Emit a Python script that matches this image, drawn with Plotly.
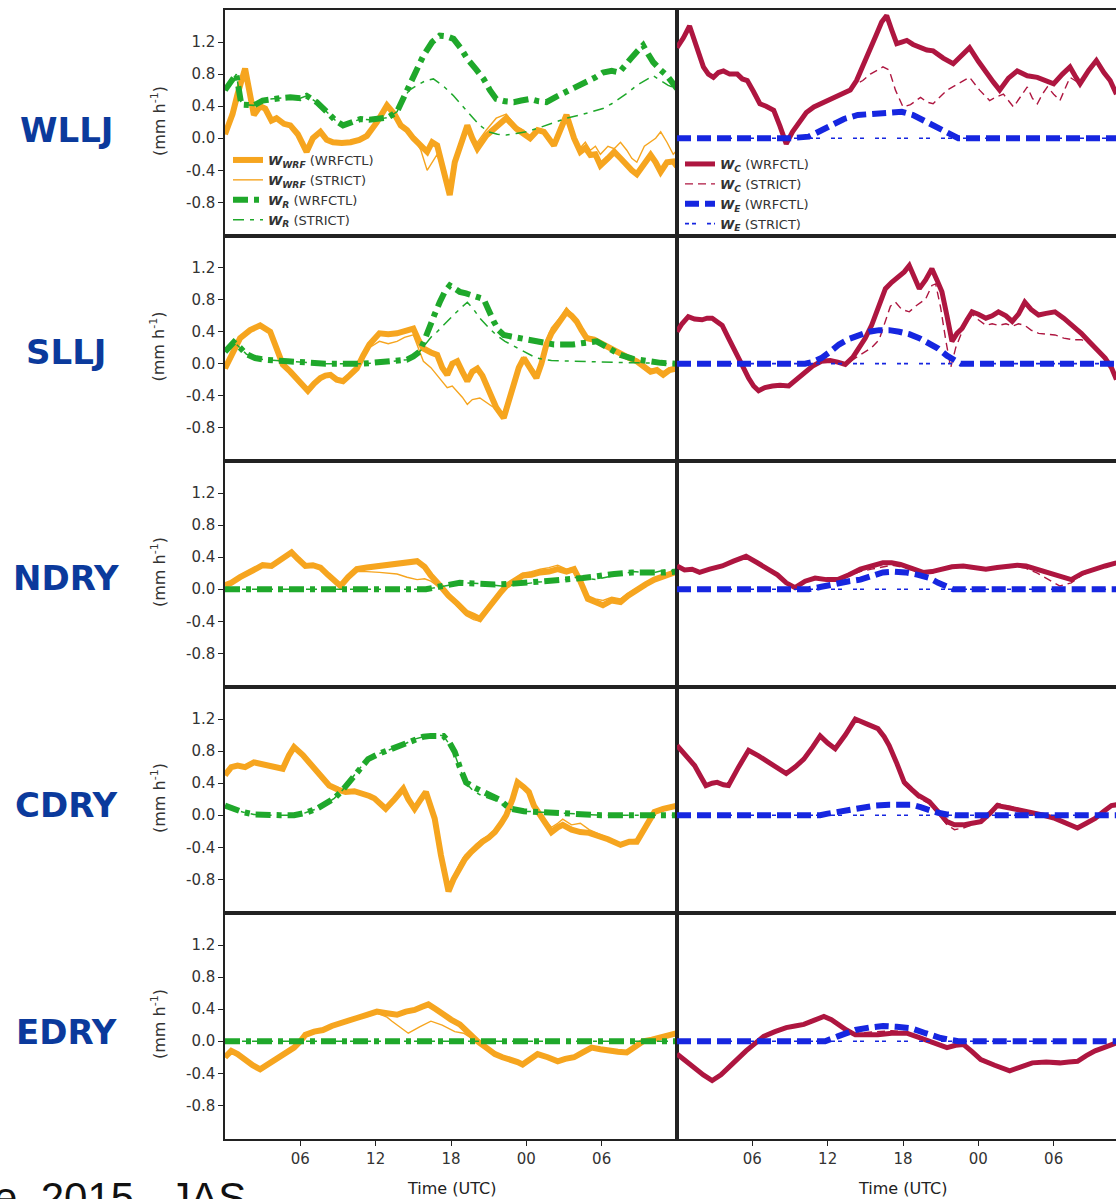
import plotly.graph_objects as go
from plotly.subplots import make_subplots

# ---------------- categories / ticks ----------------
ROW_NAMES = ["WLLJ", "SLLJ", "NDRY", "CDRY", "EDRY"]
X_TICK_HOURS = [6, 12, 18, 24, 30]
X_TICK_LABELS = ["06", "12", "18", "00", "06"]
Y_TICKS = [-0.8, -0.4, 0.0, 0.4, 0.8, 1.2]
Y_TICK_LABELS = ["-0.8", "-0.4", "0.0", "0.4", "0.8", "1.2"]
LEFT_NAMES = ["<b><i>W</i></b><sub><b><i>WRF</i></b></sub> (WRFCTL)",
              "<b><i>W</i></b><sub><b><i>WRF</i></b></sub> (STRICT)",
              "<b><i>W</i></b><sub><b><i>R</i></b></sub> (WRFCTL)",
              "<b><i>W</i></b><sub><b><i>R</i></b></sub> (STRICT)"]
RIGHT_NAMES = ["<b><i>W</i></b><sub><b><i>C</i></b></sub> (WRFCTL)",
               "<b><i>W</i></b><sub><b><i>C</i></b></sub> (STRICT)",
               "<b><i>W</i></b><sub><b><i>E</i></b></sub> (WRFCTL)",
               "<b><i>W</i></b><sub><b><i>E</i></b></sub> (STRICT)"]

# ---------------- data: (hour, mm/h) ----------------
# WLLJ
WLLJ_WRF_CTL = [(0,0.05),(0.6,0.3),(1.0,0.55),(1.6,0.87),(2.3,0.29),(2.8,0.4),(3.2,0.37),(3.7,0.22),(4.1,0.25),(4.7,0.18),(5.2,0.16),(5.8,0.05),(6.5,-0.17),(7.0,0.0),(7.6,0.08),(8.1,-0.02),(8.6,-0.05),(9.3,-0.06),(10,-0.05),(10.7,-0.02),(11.3,0.03),(12.1,0.2),(12.9,0.41),(13.5,0.3),(14,0.16),(14.5,0.1),(15,0.0),(15.6,-0.08),(16.1,-0.17),(16.5,-0.05),(16.9,-0.09),(17.4,-0.4),(17.9,-0.71),(18.3,-0.3),(18.7,-0.09),(19.3,0.16),(19.7,0.0),(20.1,-0.13),(20.8,0.03),(21.6,0.15),(22.4,0.25),(23.2,0.12),(23.8,0.05),(24.3,0.0),(24.9,0.1),(25.4,0.08),(26.2,-0.09),(26.7,0.1),(27.2,0.29),(27.8,0.0),(28.3,-0.17),(28.7,-0.12),(29.1,-0.21),(29.5,-0.2),(29.9,-0.34),(30.5,-0.25),(31,-0.17),(31.5,-0.25),(32,-0.34),(32.4,-0.4),(32.8,-0.45),(33.4,-0.3),(33.9,-0.21),(34.3,-0.3),(34.7,-0.42),(35.2,-0.3),(35.7,-0.29),(36,-0.35)]
WLLJ_WRF_STR = [(0,0.05),(0.6,0.3),(1.0,0.55),(1.6,0.87),(2.3,0.29),(2.8,0.4),(3.2,0.37),(3.7,0.22),(4.1,0.25),(4.7,0.18),(5.2,0.16),(5.8,0.05),(6.5,-0.17),(7.0,0.0),(7.6,0.08),(8.1,-0.02),(8.6,-0.05),(9.3,-0.06),(10,-0.05),(10.7,-0.02),(11.3,0.03),(12.1,0.2),(12.9,0.41),(13.5,0.3),(14,0.16),(14.5,0.1),(15,0.0),(15.6,-0.15),(16.1,-0.4),(16.5,-0.3),(16.9,-0.2),(17.4,-0.45),(17.9,-0.6),(18.3,-0.3),(18.7,-0.05),(19.3,0.1),(19.7,-0.05),(20.1,-0.05),(20.8,0.1),(21.6,0.25),(22.4,0.3),(23.2,0.15),(23.8,0.1),(24.3,0.02),(24.9,0.12),(25.4,0.1),(26.2,-0.05),(26.7,0.1),(27.2,0.28),(27.8,0.0),(28.3,-0.12),(28.7,-0.05),(29.1,-0.15),(29.5,-0.1),(29.9,-0.2),(30.5,-0.1),(31,-0.13),(31.5,-0.05),(32,-0.15),(32.4,-0.25),(32.8,-0.3),(33.4,-0.1),(33.9,-0.05),(34.3,0.0),(34.7,0.08),(35.2,-0.05),(35.7,-0.2),(36,-0.15)]
WLLJ_R_CTL = [(0,0.6),(0.5,0.7),(0.9,0.8),(1.3,0.42),(2.3,0.41),(3.0,0.47),(3.6,0.49),(4.4,0.5),(5.2,0.51),(6.0,0.5),(6.5,0.53),(7.3,0.45),(8.1,0.33),(8.8,0.22),(9.4,0.16),(10.1,0.2),(10.8,0.24),(11.5,0.23),(12.3,0.24),(13.0,0.26),(13.7,0.33),(14.2,0.5),(14.7,0.7),(15.3,0.88),(15.8,1.03),(16.5,1.2),(17.1,1.28),(17.7,1.27),(18.2,1.24),(18.8,1.12),(19.3,0.99),(20.0,0.86),(20.6,0.74),(21.1,0.6),(21.6,0.49),(22.3,0.46),(23,0.45),(23.6,0.47),(24.3,0.49),(25.0,0.46),(25.6,0.45),(26.4,0.52),(27.2,0.58),(28.0,0.64),(28.8,0.7),(29.5,0.76),(30.1,0.82),(30.8,0.84),(31.4,0.82),(31.9,0.9),(32.3,0.99),(32.8,1.08),(33.3,1.16),(33.7,1.05),(34.1,0.95),(34.7,0.85),(35.2,0.78),(35.8,0.66),(36,0.62)]
WLLJ_R_STR = [(0,0.6),(0.5,0.7),(0.9,0.8),(1.3,0.42),(2.3,0.41),(3.0,0.47),(3.6,0.49),(4.4,0.5),(5.2,0.51),(6.0,0.5),(6.5,0.53),(7.3,0.45),(8.1,0.33),(8.8,0.22),(9.4,0.16),(10.1,0.2),(10.8,0.24),(11.5,0.23),(12.3,0.24),(13.0,0.26),(13.7,0.33),(14.2,0.5),(14.7,0.6),(15.3,0.66),(16.0,0.72),(16.6,0.74),(17.4,0.65),(18.2,0.53),(18.9,0.4),(19.6,0.28),(20.3,0.16),(21,0.08),(21.7,0.05),(22.4,0.04),(23.2,0.06),(24,0.08),(25,0.13),(26.2,0.2),(27.2,0.25),(28.3,0.29),(29.2,0.33),(30.1,0.37),(30.8,0.43),(31.4,0.49),(32.1,0.57),(32.8,0.66),(33.5,0.72),(34.1,0.78),(34.7,0.72),(35.3,0.66),(36,0.62)]
WLLJ_C_CTL = [(0,1.13),(0.5,1.25),(1.0,1.4),(1.5,1.15),(2.1,0.89),(2.5,0.8),(2.9,0.76),(3.3,0.82),(3.7,0.84),(4.2,0.8),(4.8,0.8),(5.2,0.74),(5.6,0.72),(6.1,0.58),(6.6,0.43),(7.1,0.4),(7.7,0.35),(8.2,0.15),(8.7,-0.07),(9.2,0.08),(9.8,0.22),(10.3,0.32),(10.9,0.39),(11.7,0.45),(12.5,0.51),(13.2,0.55),(13.8,0.6),(14.3,0.72),(14.8,0.89),(15.4,1.1),(15.9,1.3),(16.3,1.45),(16.7,1.53),(17.1,1.35),(17.5,1.18),(17.9,1.2),(18.3,1.22),(18.8,1.17),(19.4,1.13),(19.9,1.1),(20.4,1.09),(21.2,1.0),(22,0.93),(22.7,1.05),(23.3,1.13),(24.0,0.96),(24.7,0.8),(25.2,0.7),(25.7,0.6),(26.4,0.75),(27.1,0.84),(27.9,0.78),(28.7,0.76),(29.4,0.72),(30,0.68),(30.7,0.8),(31.3,0.89),(31.7,0.78),(32.1,0.68),(32.8,0.85),(33.4,0.97),(34.0,0.82),(34.5,0.72),(35,0.55)]
WLLJ_C_STR = [(0,1.13),(0.5,1.25),(1.0,1.4),(1.5,1.15),(2.1,0.89),(2.5,0.8),(2.9,0.76),(3.3,0.82),(3.7,0.84),(4.2,0.8),(4.8,0.8),(5.2,0.74),(5.6,0.72),(6.1,0.58),(6.6,0.43),(7.1,0.4),(7.7,0.35),(8.2,0.15),(8.7,-0.07),(9.2,0.08),(9.8,0.22),(10.3,0.32),(10.9,0.39),(11.7,0.45),(12.5,0.51),(13.2,0.55),(13.8,0.6),(14.3,0.68),(14.8,0.72),(15.4,0.8),(16.0,0.86),(16.4,0.89),(16.9,0.85),(17.4,0.6),(18,0.39),(18.6,0.42),(19.4,0.51),(19.9,0.45),(20.4,0.43),(21.0,0.52),(21.5,0.6),(22.4,0.68),(23.3,0.76),(24.1,0.6),(24.9,0.47),(25.5,0.52),(26,0.55),(26.8,0.39),(27.4,0.52),(27.9,0.64),(28.3,0.5),(28.7,0.43),(29.1,0.55),(29.5,0.64),(30.0,0.55),(30.5,0.47),(31.3,0.76),(31.7,0.72),(32.1,0.68),(32.8,0.85),(33.4,0.97),(34.0,0.82),(34.5,0.72),(35,0.55)]
WLLJ_E_CTL = [(0,0),(9,0),(10.5,0.02),(11.5,0.1),(12.3,0.18),(13.3,0.24),(14.4,0.29),(15.2,0.3),(16,0.31),(17,0.32),(17.9,0.33),(18.8,0.29),(19.7,0.22),(20.5,0.16),(21.3,0.1),(22.4,0.0),(35,0)]
WLLJ_E_STR = [(0,0),(35,0)]

# SLLJ
SLLJ_WRF_CTL = [(0,-0.06),(0.6,0.15),(1.2,0.32),(2.0,0.42),(2.8,0.48),(3.6,0.4),(4.1,0.2),(4.6,-0.01),(5.2,-0.1),(5.7,-0.18),(6.2,-0.28),(6.6,-0.34),(7.1,-0.25),(7.6,-0.18),(8.0,-0.15),(8.4,-0.14),(8.9,-0.2),(9.4,-0.22),(9.9,-0.15),(10.5,-0.06),(11.0,0.1),(11.5,0.24),(12.3,0.38),(13.0,0.37),(13.7,0.38),(14.3,0.4),(15,0.44),(15.4,0.3),(15.8,0.19),(16.4,0.14),(16.9,0.11),(17.3,-0.05),(17.7,-0.14),(18.1,0.0),(18.5,0.03),(18.9,-0.1),(19.3,-0.22),(19.7,-0.1),(20.1,-0.06),(20.5,-0.15),(20.8,-0.26),(21.2,-0.4),(21.6,-0.55),(22.2,-0.68),(22.6,-0.45),(23,-0.22),(23.4,-0.05),(23.8,0.07),(24.3,-0.05),(24.8,-0.18),(25.2,0.0),(25.6,0.24),(26,0.38),(26.4,0.48),(26.8,0.55),(27.2,0.65),(27.6,0.6),(28,0.53),(28.4,0.42),(28.8,0.32),(29.4,0.3),(30.1,0.24),(30.8,0.18),(31.5,0.11),(32.2,0.07),(32.8,0.03),(33.4,-0.03),(33.9,-0.1),(34.4,-0.08),(34.9,-0.14),(35.4,-0.08),(36,-0.06)]
SLLJ_WRF_STR = [(0,-0.06),(0.6,0.15),(1.2,0.32),(2.0,0.42),(2.8,0.48),(3.6,0.4),(4.1,0.2),(4.6,-0.01),(5.2,-0.1),(5.7,-0.18),(6.2,-0.28),(6.6,-0.34),(7.1,-0.25),(7.6,-0.18),(8.0,-0.15),(8.4,-0.14),(8.9,-0.2),(9.4,-0.22),(9.9,-0.15),(10.5,-0.06),(11.0,0.1),(11.5,0.2),(12.3,0.28),(13.0,0.25),(13.7,0.28),(14.3,0.33),(15,0.36),(15.4,0.2),(15.8,0.03),(16.4,-0.05),(16.9,-0.15),(17.3,-0.22),(17.7,-0.3),(18.1,-0.28),(18.5,-0.35),(18.9,-0.42),(19.3,-0.51),(19.7,-0.45),(20.3,-0.43),(20.8,-0.48),(21.4,-0.55),(21.8,-0.62),(22.2,-0.6),(22.6,-0.42),(23,-0.2),(23.4,-0.03),(23.8,0.08),(24.3,-0.02),(24.8,-0.12),(25.2,0.05),(25.6,0.3),(26,0.45),(26.4,0.52),(26.8,0.6),(27.2,0.7),(27.6,0.62),(28,0.55),(28.4,0.45),(28.8,0.35),(29.4,0.32),(30.1,0.26),(30.8,0.2),(31.5,0.13),(32.2,0.08),(32.8,0.05),(33.4,-0.01),(33.9,-0.07),(34.4,-0.06),(34.9,-0.1),(35.4,-0.05),(36,-0.04)]
SLLJ_R_CTL = [(0,0.15),(0.7,0.27),(1.2,0.2),(1.7,0.12),(2.4,0.07),(3.1,0.05),(5,0.03),(8,0.0),(11,0.0),(13,0.02),(14.5,0.05),(15.0,0.09),(15.5,0.15),(15.9,0.3),(16.3,0.48),(16.7,0.62),(17.1,0.77),(17.5,0.9),(17.9,0.98),(18.3,0.93),(18.7,0.9),(19.2,0.88),(19.8,0.86),(20.2,0.83),(20.6,0.81),(21.0,0.66),(21.4,0.53),(21.8,0.42),(22.2,0.36),(22.8,0.34),(23.5,0.32),(24.2,0.3),(24.8,0.28),(25.5,0.26),(26.2,0.24),(27,0.24),(27.7,0.24),(28.6,0.26),(29.6,0.28),(30.5,0.2),(31.5,0.11),(32.5,0.06),(33.6,0.03),(34.7,0.01),(36,0.0)]
SLLJ_R_STR = [(0,0.15),(0.7,0.27),(1.2,0.2),(1.7,0.12),(2.4,0.07),(3.1,0.05),(5,0.03),(8,0.0),(11,0.0),(13,0.02),(14.5,0.05),(15.0,0.09),(15.5,0.15),(16.0,0.25),(16.5,0.35),(16.9,0.4),(17.5,0.5),(18.2,0.61),(18.8,0.7),(19.3,0.77),(19.8,0.68),(20.3,0.57),(21.0,0.45),(21.6,0.36),(22.3,0.28),(23.0,0.22),(23.9,0.14),(24.8,0.07),(26,0.04),(27.5,0.03),(30,0.02),(33,0.01),(36,0.0)]
SLLJ_C_CTL = [(0,0.4),(0.4,0.5),(0.9,0.59),(1.4,0.56),(2.0,0.55),(2.4,0.57),(2.8,0.57),(3.2,0.53),(3.6,0.48),(4.1,0.32),(4.6,0.15),(5.2,-0.02),(5.7,-0.18),(6.1,-0.28),(6.5,-0.34),(7.0,-0.3),(7.6,-0.28),(8.2,-0.27),(8.9,-0.28),(9.5,-0.2),(10.2,-0.1),(10.8,-0.03),(11.5,0.03),(12.2,0.04),(12.8,0.02),(13.4,-0.01),(14.0,0.08),(14.5,0.19),(15.0,0.32),(15.5,0.48),(16.0,0.7),(16.6,0.94),(17.1,1.02),(17.7,1.1),(18.1,1.15),(18.5,1.23),(18.9,1.08),(19.3,0.94),(19.8,1.05),(20.3,1.19),(20.7,1.05),(21.1,0.9),(21.5,0.6),(21.9,0.28),(22.3,0.38),(22.7,0.44),(23.1,0.55),(23.5,0.65),(24.0,0.62),(24.6,0.57),(25.1,0.6),(25.6,0.65),(26.2,0.6),(26.7,0.53),(27.2,0.62),(27.7,0.77),(28.2,0.68),(28.8,0.61),(29.4,0.63),(30.1,0.65),(30.8,0.57),(31.5,0.48),(32.2,0.38),(32.8,0.28),(33.5,0.17),(34.1,0.07),(34.6,-0.05),(35,-0.2)]
SLLJ_C_STR = [(0,0.4),(0.4,0.5),(0.9,0.59),(1.4,0.56),(2.0,0.55),(2.4,0.57),(2.8,0.57),(3.2,0.53),(3.6,0.48),(4.1,0.32),(4.6,0.15),(5.2,-0.02),(5.7,-0.18),(6.1,-0.28),(6.5,-0.34),(7.0,-0.3),(7.6,-0.28),(8.2,-0.27),(8.9,-0.28),(9.5,-0.2),(10.2,-0.1),(10.8,-0.03),(11.5,0.03),(12.2,0.04),(12.8,0.02),(13.4,-0.01),(14.0,0.05),(14.5,0.1),(15.0,0.15),(15.5,0.2),(16.1,0.3),(16.6,0.55),(17.0,0.72),(17.4,0.77),(17.9,0.68),(18.5,0.65),(19.0,0.72),(19.8,0.81),(20.3,0.98),(20.6,1.0),(21.0,0.7),(21.4,0.3),(21.8,-0.05),(22.2,0.2),(22.7,0.4),(23.1,0.52),(23.5,0.62),(24.0,0.55),(24.6,0.48),(25.1,0.5),(25.6,0.48),(26.2,0.5),(26.7,0.47),(27.2,0.5),(27.7,0.48),(28.2,0.42),(28.8,0.38),(29.4,0.37),(30.1,0.36),(30.8,0.32),(31.5,0.3),(32.2,0.3),(32.8,0.26),(33.5,0.17),(34.1,0.07),(34.6,-0.05),(35,-0.2)]
SLLJ_E_CTL = [(0,0),(10.2,0),(10.8,0.02),(11.5,0.07),(12.2,0.15),(12.9,0.24),(13.7,0.31),(14.5,0.36),(15.3,0.4),(16.1,0.42),(16.9,0.42),(17.7,0.4),(18.5,0.37),(19.3,0.32),(20.0,0.26),(20.8,0.19),(21.5,0.1),(22.2,0.03),(22.6,0.0),(35,0)]
SLLJ_E_STR = [(0,0),(35,0)]

# NDRY
NDRY_WRF_CTL = [(0,0.05),(0.5,0.08),(1.2,0.15),(1.8,0.2),(2.3,0.25),(3.0,0.3),(3.7,0.29),(4.2,0.35),(4.8,0.42),(5.3,0.46),(5.8,0.38),(6.4,0.29),(7.0,0.3),(7.6,0.27),(8.2,0.18),(8.7,0.1),(9.2,0.04),(9.8,0.15),(10.5,0.25),(11.3,0.27),(12.3,0.29),(13.0,0.3),(13.7,0.33),(14.5,0.34),(15.3,0.35),(15.9,0.28),(16.4,0.17),(17.1,0.05),(17.8,-0.08),(18.5,-0.18),(19.2,-0.29),(19.8,-0.33),(20.3,-0.37),(20.9,-0.25),(21.5,-0.12),(22.0,-0.03),(22.4,0.04),(23.0,0.1),(23.7,0.17),(24.4,0.18),(25.1,0.21),(25.8,0.22),(26.5,0.25),(27.2,0.22),(27.8,0.25),(28.3,0.1),(28.9,-0.12),(29.5,-0.16),(30.1,-0.2),(30.8,-0.14),(31.5,-0.16),(32.1,-0.08),(32.8,0.0),(33.5,0.06),(34.2,0.12),(34.9,0.16),(35.6,0.21),(36,0.22)]
NDRY_WRF_STR = [(0,0.05),(0.5,0.08),(1.2,0.15),(1.8,0.2),(2.3,0.25),(3.0,0.3),(3.7,0.29),(4.2,0.35),(4.8,0.42),(5.3,0.46),(5.8,0.38),(6.4,0.29),(7.0,0.3),(7.6,0.27),(8.2,0.18),(8.7,0.1),(9.2,0.04),(9.8,0.15),(10.5,0.22),(11.3,0.22),(12.3,0.21),(13.0,0.2),(13.7,0.19),(14.5,0.15),(15.3,0.12),(15.9,0.13),(16.4,0.1),(17.1,0.02),(17.8,-0.1),(18.5,-0.22),(19.2,-0.33),(19.8,-0.38),(20.3,-0.4),(20.9,-0.28),(21.5,-0.15),(22.0,-0.05),(22.4,0.03),(23.0,0.12),(23.7,0.2),(24.4,0.22),(25.1,0.25),(25.8,0.27),(26.5,0.3),(27.2,0.25),(27.8,0.27),(28.3,0.08),(28.9,-0.08),(29.5,-0.12),(30.1,-0.14),(30.8,-0.1),(31.5,-0.12),(32.1,-0.05),(32.8,0.02),(33.5,0.08),(34.2,0.13),(34.9,0.17),(35.6,0.21),(36,0.22)]
NDRY_R_CTL = [(0,0),(16,0.0),(17,0.03),(18.7,0.08),(20,0.07),(21.5,0.06),(23,0.07),(24.2,0.08),(25.5,0.1),(27,0.12),(28.5,0.14),(29.7,0.17),(31,0.19),(32.4,0.21),(34,0.2),(35.1,0.21),(36,0.22)]
NDRY_R_STR = [(0,0),(16,0.0),(17.5,0.04),(19,0.08),(20.5,0.07),(22,0.04),(23.5,0.06),(25,0.09),(26.5,0.1),(28,0.15),(29.5,0.12),(31,0.17),(32.5,0.22),(34,0.2),(35,0.24),(36,0.22)]
NDRY_C_CTL = [(0,0.29),(0.6,0.24),(1.2,0.25),(1.8,0.21),(2.6,0.25),(3.6,0.29),(4.5,0.35),(5.5,0.41),(6.4,0.33),(7.3,0.25),(8.0,0.18),(8.7,0.08),(9.4,0.02),(10.2,0.1),(11.0,0.14),(11.9,0.12),(12.8,0.12),(13.7,0.18),(14.6,0.25),(15.5,0.29),(16.4,0.33),(17.1,0.33),(17.8,0.31),(18.7,0.26),(19.6,0.21),(20.3,0.22),(21.0,0.25),(21.9,0.28),(22.8,0.29),(23.7,0.27),(24.6,0.25),(25.5,0.27),(26.4,0.29),(27.1,0.3),(27.8,0.29),(28.7,0.25),(29.6,0.21),(30.5,0.16),(31.4,0.12),(32.3,0.2),(33.2,0.25),(34.1,0.29),(35,0.33)]
NDRY_C_STR = [(0,0.29),(0.6,0.24),(1.2,0.25),(1.8,0.21),(2.6,0.25),(3.6,0.29),(4.5,0.35),(5.5,0.41),(6.4,0.33),(7.3,0.25),(8.0,0.18),(8.7,0.08),(9.4,0.02),(10.2,0.1),(11.0,0.14),(11.9,0.12),(12.8,0.12),(13.7,0.17),(14.6,0.22),(15.5,0.25),(16.4,0.28),(17.1,0.3),(17.8,0.28),(18.7,0.24),(19.6,0.2),(20.3,0.2),(21.0,0.24),(21.9,0.27),(22.8,0.28),(23.7,0.26),(24.6,0.24),(25.5,0.26),(26.4,0.27),(27.1,0.28),(27.8,0.26),(28.7,0.2),(29.6,0.12),(30.5,0.04),(31.4,0.08),(32.3,0.18),(33.2,0.24),(34.1,0.28),(35,0.32)]
NDRY_E_CTL = [(0,0),(10.5,0),(11.5,0.03),(12.8,0.08),(13.7,0.1),(14.6,0.12),(15.5,0.17),(16.4,0.21),(17.3,0.22),(18.2,0.21),(19.2,0.18),(20.1,0.14),(20.8,0.08),(21.4,0.04),(22,0.0),(35,0)]
NDRY_E_STR = [(0,0),(35,0)]

# CDRY
CDRY_WRF_CTL = [(0,0.5),(0.5,0.6),(1.0,0.62),(1.6,0.6),(2.3,0.66),(3.0,0.64),(3.7,0.62),(4.2,0.6),(4.6,0.58),(5.1,0.75),(5.5,0.85),(6.2,0.75),(6.9,0.62),(7.6,0.5),(8.3,0.37),(9.0,0.32),(9.6,0.29),(10.3,0.3),(11,0.27),(11.5,0.24),(11.9,0.21),(12.4,0.15),(12.8,0.08),(13.5,0.2),(14.2,0.33),(14.6,0.2),(15.1,0.08),(15.6,0.2),(16,0.29),(16.4,0.1),(16.7,-0.04),(17.2,-0.5),(17.8,-0.95),(18.2,-0.8),(18.7,-0.66),(19.1,-0.55),(19.6,-0.46),(20.0,-0.4),(20.5,-0.33),(21,-0.28),(21.5,-0.21),(22.0,-0.1),(22.4,0.0),(22.9,0.2),(23.3,0.41),(23.8,0.35),(24.2,0.29),(24.6,0.12),(25.1,0.0),(25.6,-0.1),(26,-0.21),(26.5,-0.15),(26.9,-0.12),(27.6,-0.18),(28.3,-0.21),(29,-0.22),(29.6,-0.25),(30.5,-0.3),(31.5,-0.37),(32.2,-0.33),(32.8,-0.33),(33.5,-0.15),(34.2,0.04),(34.9,0.08),(35.6,0.1),(36,0.12)]
CDRY_WRF_STR = [(0,0.5),(0.5,0.6),(1.0,0.62),(1.6,0.6),(2.3,0.66),(3.0,0.64),(3.7,0.62),(4.2,0.6),(4.6,0.58),(5.1,0.75),(5.5,0.85),(6.2,0.75),(6.9,0.62),(7.6,0.5),(8.3,0.37),(9.0,0.32),(9.6,0.29),(10.3,0.3),(11,0.27),(11.5,0.24),(11.9,0.21),(12.4,0.15),(12.8,0.08),(13.5,0.2),(14.2,0.33),(14.6,0.2),(15.1,0.08),(15.6,0.2),(16,0.29),(16.4,0.1),(16.7,-0.04),(17.2,-0.5),(17.8,-0.9),(18.2,-0.76),(18.7,-0.6),(19.1,-0.5),(19.6,-0.42),(20.0,-0.36),(20.5,-0.3),(21,-0.25),(21.5,-0.18),(22.0,-0.08),(22.4,0.02),(22.9,0.22),(23.3,0.38),(23.8,0.33),(24.2,0.27),(24.6,0.1),(25.1,0.0),(25.6,-0.08),(26,-0.15),(26.5,-0.1),(26.9,-0.05),(27.6,-0.12),(28.3,-0.1),(29,-0.18),(29.6,-0.22),(30.5,-0.28),(31.5,-0.35),(32.2,-0.31),(32.8,-0.3),(33.5,-0.13),(34.2,0.05),(34.9,0.09),(35.6,0.1),(36,0.12)]
CDRY_R_CTL = [(0,0.12),(0.7,0.08),(1.4,0.04),(2.3,0.01),(3.2,0.0),(4.4,0.0),(5.5,0.0),(6.4,0.03),(7.3,0.08),(8.0,0.14),(8.7,0.21),(9.4,0.32),(10.1,0.46),(10.7,0.58),(11.4,0.7),(12.3,0.77),(13.3,0.83),(14.2,0.88),(15.1,0.95),(15.8,0.98),(16.4,0.99),(17.0,1.0),(17.4,0.99),(17.9,0.9),(18.3,0.79),(18.7,0.6),(19.2,0.41),(19.8,0.35),(20.5,0.29),(21.2,0.24),(21.9,0.19),(22.4,0.12),(22.8,0.08),(23.8,0.05),(25.1,0.04),(26.5,0.03),(27.8,0.02),(30,0.0),(36,0.0)]
CDRY_R_STR = [(0,0.12),(0.7,0.08),(1.4,0.04),(2.3,0.01),(3.2,0.0),(4.4,0.0),(5.5,0.0),(6.4,0.03),(7.3,0.08),(8.0,0.14),(8.7,0.21),(9.4,0.32),(10.1,0.46),(10.7,0.58),(11.4,0.7),(12.3,0.77),(13.3,0.83),(14.2,0.88),(15.1,0.95),(15.8,0.98),(16.4,0.99),(17.0,1.0),(17.4,0.99),(17.9,0.88),(18.3,0.76),(18.7,0.58),(19.2,0.4),(19.8,0.3),(20.5,0.24),(21.2,0.2),(21.9,0.16),(22.4,0.1),(22.8,0.07),(23.8,0.05),(25.1,0.04),(26.5,0.03),(27.8,0.02),(30,0.0),(36,0.0)]
CDRY_C_CTL = [(0,0.87),(0.7,0.75),(1.4,0.62),(1.9,0.48),(2.3,0.37),(2.8,0.4),(3.2,0.41),(3.7,0.38),(4.1,0.37),(4.9,0.6),(5.7,0.81),(6.5,0.74),(7.3,0.66),(8.0,0.58),(8.7,0.52),(9.4,0.6),(10.1,0.7),(10.8,0.85),(11.4,0.99),(12.0,0.9),(12.6,0.83),(13.4,1.0),(14.2,1.2),(15.1,1.14),(16,1.08),(16.5,0.98),(16.9,0.87),(17.5,0.65),(18.1,0.41),(18.7,0.32),(19.2,0.25),(20.1,0.17),(20.8,0.05),(21.5,-0.08),(22.1,-0.12),(22.8,-0.12),(23.5,-0.1),(24.2,-0.08),(24.9,0.02),(25.5,0.12),(26.2,0.1),(26.9,0.08),(27.6,0.06),(28.3,0.04),(29.2,0.0),(30.1,-0.04),(31.0,-0.1),(31.9,-0.16),(32.6,-0.1),(33.3,-0.04),(34.0,0.05),(34.6,0.12),(35,0.13)]
CDRY_C_STR = [(0,0.87),(0.7,0.75),(1.4,0.62),(1.9,0.48),(2.3,0.37),(2.8,0.4),(3.2,0.41),(3.7,0.38),(4.1,0.37),(4.9,0.6),(5.7,0.81),(6.5,0.74),(7.3,0.66),(8.0,0.58),(8.7,0.52),(9.4,0.6),(10.1,0.7),(10.8,0.85),(11.4,0.99),(12.0,0.9),(12.6,0.83),(13.4,1.0),(14.2,1.2),(15.1,1.14),(16,1.08),(16.5,0.98),(16.9,0.87),(17.5,0.62),(18.1,0.38),(18.7,0.3),(19.2,0.22),(20.1,0.14),(20.8,0.02),(21.5,-0.12),(22.1,-0.18),(22.8,-0.16),(23.5,-0.12),(24.2,-0.08),(24.9,0.04),(25.5,0.15),(26.2,0.12),(26.9,0.1),(27.6,0.06),(28.3,0.04),(29.2,0.0),(30.1,-0.04),(31.0,-0.1),(31.9,-0.16),(32.6,-0.1),(33.3,-0.04),(34.0,0.05),(34.6,0.12),(35,0.13)]
CDRY_E_CTL = [(0,0),(11.4,0),(12.0,0.02),(12.8,0.04),(13.7,0.07),(14.6,0.1),(15.8,0.12),(16.9,0.13),(18.0,0.13),(18.7,0.13),(19.4,0.1),(20.1,0.06),(20.8,0.03),(21.5,0.01),(22.2,0.0),(35,0)]
CDRY_E_STR = [(0,0),(35,0)]

# EDRY
EDRY_WRF_CTL = [(0,-0.2),(0.5,-0.12),(1.0,-0.16),(1.5,-0.22),(2.2,-0.3),(2.8,-0.35),(3.5,-0.28),(4.2,-0.2),(4.9,-0.14),(5.5,-0.08),(6.0,0.0),(6.4,0.08),(7.1,0.12),(7.8,0.14),(8.5,0.19),(9.2,0.23),(9.9,0.26),(10.5,0.29),(11.3,0.33),(12.1,0.37),(12.9,0.35),(13.7,0.33),(14.4,0.37),(15.1,0.39),(15.7,0.43),(16.2,0.46),(16.8,0.4),(17.4,0.33),(18.0,0.27),(18.7,0.21),(19.4,0.1),(20.1,0.0),(20.8,-0.08),(21.5,-0.16),(22.1,-0.2),(22.8,-0.23),(23.3,-0.26),(23.7,-0.29),(24.3,-0.22),(24.9,-0.16),(25.7,-0.2),(26.5,-0.25),(27.1,-0.22),(27.8,-0.2),(28.5,-0.14),(29.2,-0.08),(29.9,-0.1),(30.6,-0.12),(31.3,-0.13),(32.0,-0.14),(32.7,-0.06),(33.3,0.0),(34.0,0.02),(34.8,0.05),(35.6,0.08),(36,0.1)]
EDRY_WRF_STR = [(0,-0.2),(0.5,-0.12),(1.0,-0.16),(1.5,-0.22),(2.2,-0.3),(2.8,-0.35),(3.5,-0.28),(4.2,-0.2),(4.9,-0.14),(5.5,-0.08),(6.0,0.0),(6.4,0.08),(7.1,0.12),(7.8,0.14),(8.5,0.19),(9.2,0.23),(9.9,0.26),(10.5,0.29),(11.3,0.33),(12.1,0.35),(12.9,0.3),(13.3,0.25),(14.0,0.17),(14.6,0.1),(15.5,0.18),(16.4,0.25),(17.3,0.2),(18.3,0.12),(19.0,0.1),(19.4,0.06),(20.1,0.0),(20.8,-0.08),(21.5,-0.16),(22.1,-0.2),(22.8,-0.23),(23.3,-0.26),(23.7,-0.29),(24.3,-0.22),(24.9,-0.16),(25.7,-0.2),(26.5,-0.25),(27.1,-0.22),(27.8,-0.2),(28.5,-0.14),(29.2,-0.08),(29.9,-0.1),(30.6,-0.12),(31.3,-0.13),(32.0,-0.14),(32.7,-0.06),(33.3,0.0),(34.0,0.02),(34.8,0.05),(35.6,0.08),(36,0.1)]
EDRY_R_CTL = [(0,0.0),(36,0.0)]
EDRY_R_STR = [(0,0.0),(36,0.0)]
EDRY_C_CTL = [(0,-0.16),(0.7,-0.25),(1.4,-0.33),(2.1,-0.42),(2.8,-0.49),(3.5,-0.42),(4.1,-0.33),(4.8,-0.22),(5.5,-0.12),(6.2,-0.03),(6.9,0.06),(7.8,0.12),(8.7,0.17),(9.4,0.19),(10.1,0.21),(10.9,0.26),(11.7,0.31),(12.3,0.27),(12.8,0.21),(13.5,0.14),(14.2,0.08),(15.1,0.08),(16,0.08),(17.1,0.1),(18.3,0.1),(19.2,0.05),(20.1,0.0),(20.8,-0.05),(21.5,-0.08),(22.2,-0.05),(22.8,-0.04),(23.5,-0.13),(24.2,-0.23),(25.3,-0.3),(26.5,-0.37),(27.4,-0.32),(28.3,-0.27),(29.4,-0.26),(30.5,-0.27),(31.2,-0.26),(31.9,-0.25),(32.6,-0.18),(33.3,-0.12),(34.0,-0.08),(34.6,-0.04),(35,-0.02)]
EDRY_C_STR = [(0,-0.16),(0.7,-0.25),(1.4,-0.33),(2.1,-0.42),(2.8,-0.49),(3.5,-0.42),(4.1,-0.33),(4.8,-0.22),(5.5,-0.12),(6.2,-0.03),(6.9,0.06),(7.8,0.12),(8.7,0.17),(9.4,0.19),(10.1,0.21),(10.9,0.26),(11.7,0.31),(12.3,0.27),(12.8,0.2),(13.5,0.12),(14.2,0.1),(15.1,0.11),(16,0.12),(17.1,0.13),(18.3,0.12),(19.2,0.06),(20.1,0.0),(20.8,-0.05),(21.5,-0.08),(22.2,-0.05),(22.8,-0.04),(23.5,-0.13),(24.2,-0.23),(25.3,-0.3),(26.5,-0.37),(27.4,-0.32),(28.3,-0.27),(29.4,-0.26),(30.5,-0.27),(31.2,-0.26),(31.9,-0.25),(32.6,-0.18),(33.3,-0.12),(34.0,-0.08),(34.6,-0.04),(35,-0.02)]
EDRY_E_CTL = [(0,0),(11.8,0),(12.8,0.06),(13.5,0.11),(14.2,0.14),(15.3,0.17),(16.4,0.19),(17.5,0.18),(18.7,0.16),(19.8,0.1),(21,0.04),(22.4,0.0),(35,0)]
EDRY_E_STR = [(0,0),(35,0)]

LEFT_SERIES = [
    [WLLJ_WRF_CTL, WLLJ_WRF_STR, WLLJ_R_CTL, WLLJ_R_STR],
    [SLLJ_WRF_CTL, SLLJ_WRF_STR, SLLJ_R_CTL, SLLJ_R_STR],
    [NDRY_WRF_CTL, NDRY_WRF_STR, NDRY_R_CTL, NDRY_R_STR],
    [CDRY_WRF_CTL, CDRY_WRF_STR, CDRY_R_CTL, CDRY_R_STR],
    [EDRY_WRF_CTL, EDRY_WRF_STR, EDRY_R_CTL, EDRY_R_STR],
]
RIGHT_SERIES = [
    [WLLJ_C_CTL, WLLJ_C_STR, WLLJ_E_CTL, WLLJ_E_STR],
    [SLLJ_C_CTL, SLLJ_C_STR, SLLJ_E_CTL, SLLJ_E_STR],
    [NDRY_C_CTL, NDRY_C_STR, NDRY_E_CTL, NDRY_E_STR],
    [CDRY_C_CTL, CDRY_C_STR, CDRY_E_CTL, CDRY_E_STR],
    [EDRY_C_CTL, EDRY_C_STR, EDRY_E_CTL, EDRY_E_STR],
]

# ---------------- styles ----------------
ORANGE = "#F6A51F"
GREEN = "#1FA82B"
CRIMSON = "#AE1640"
BLUE = "#1626E0"
LEFT_STYLES = [dict(color=ORANGE, width=6, dash="solid"),
               dict(color=ORANGE, width=1.4, dash="solid"),
               dict(color=GREEN, width=6, dash="15px,6px,5px,6px"),
               dict(color=GREEN, width=1.5, dash="11px,6px,4px,6px")]
RIGHT_STYLES = [dict(color=CRIMSON, width=5, dash="solid"),
                dict(color=CRIMSON, width=1.4, dash="8px,5px"),
                dict(color=BLUE, width=6, dash="14px,6px"),
                dict(color=BLUE, width=1.6, dash="4px,3px,4px,11px")]

W, H = 1116, 1199
LEFT_X0, MID_X, RIGHT_X1 = 225, 677, 1116
ROW_TOPS = [10, 236, 461, 687, 913, 1139]

fig = make_subplots(rows=5, cols=2, horizontal_spacing=0, vertical_spacing=0)

for r in range(5):
    for pts, st, nm in zip(LEFT_SERIES[r], LEFT_STYLES, LEFT_NAMES):
        fig.add_trace(go.Scatter(x=[p[0] for p in pts], y=[p[1] for p in pts], mode="lines",
                                 line=st, name=nm, showlegend=(r == 0), legend="legend",
                                 hoverinfo="skip"), row=r + 1, col=1)
    for pts, st, nm in zip(RIGHT_SERIES[r], RIGHT_STYLES, RIGHT_NAMES):
        fig.add_trace(go.Scatter(x=[p[0] for p in pts], y=[p[1] for p in pts], mode="lines",
                                 line=st, name=nm, showlegend=(r == 0), legend="legend2",
                                 hoverinfo="skip"), row=r + 1, col=2)

TICK_FONT = dict(family="DejaVu Sans", size=15, color="#333")
for r in range(5):
    y0 = 1 - ROW_TOPS[r + 1] / H
    y1 = 1 - ROW_TOPS[r] / H
    bottom = (r == 4)
    for c in (1, 2):
        if c == 1:
            xd = [LEFT_X0 / W, MID_X / W]
            xr = [0, 36]
        else:
            xd = [MID_X / W, 1.0]
            xr = [0, (RIGHT_X1 - MID_X) / (MID_X - LEFT_X0) * 36]
        fig.update_xaxes(domain=xd, range=xr, showgrid=False, zeroline=False,
                         showline=True, mirror=True, linecolor="#222", linewidth=1.5,
                         tickvals=X_TICK_HOURS, ticktext=X_TICK_LABELS,
                         ticks="outside" if bottom else "", ticklen=5, tickcolor="#222",
                         showticklabels=bottom, tickfont=TICK_FONT,
                         row=r + 1, col=c)
        fig.update_yaxes(domain=[y0, y1], range=[-1.22, 1.6], showgrid=False, zeroline=False,
                         showline=True, mirror=(c == 1), linecolor="#222", linewidth=1.5,
                         tickvals=Y_TICKS, ticktext=Y_TICK_LABELS,
                         ticks="outside" if c == 1 else "", ticklen=5, tickcolor="#222",
                         showticklabels=(c == 1), tickfont=TICK_FONT,
                         row=r + 1, col=c)

annotations = []
ROW_LABEL_Y = [130, 352, 578, 805, 1032]
for r, name in enumerate(ROW_NAMES):
    annotations.append(dict(text=f"<b>{name}</b>", x=66 / W, y=1 - ROW_LABEL_Y[r] / H,
                            xref="paper", yref="paper", xanchor="center", yanchor="middle",
                            showarrow=False, font=dict(family="DejaVu Sans", size=34, color="#0B3A9C")))
    yc = (ROW_TOPS[r] + ROW_TOPS[r + 1]) / 2 - 2
    annotations.append(dict(text="(mm h<sup>-1</sup>)", x=158 / W, y=1 - yc / H,
                            xref="paper", yref="paper", xanchor="center", yanchor="middle",
                            textangle=-90, showarrow=False,
                            font=dict(family="DejaVu Sans", size=16, color="#333")))
for xc in ((LEFT_X0 + MID_X) / 2, MID_X + (MID_X - LEFT_X0) / 2):
    annotations.append(dict(text="Time (UTC)", x=xc / W, y=1 - 1188 / H,
                            xref="paper", yref="paper", xanchor="center", yanchor="middle",
                            showarrow=False, font=dict(family="DejaVu Sans", size=16, color="#222")))
annotations.append(dict(text="e, 2015,&nbsp;&nbsp;JAS", x=-8 / W, y=1 - 1172 / H,
                        xref="paper", yref="paper", xanchor="left", yanchor="top",
                        showarrow=False, font=dict(family="Liberation Sans", size=42, color="#111")))

LEG_FONT = dict(family="DejaVu Sans", size=13, color="#333")
fig.update_layout(
    width=W, height=H, margin=dict(l=0, r=0, t=0, b=0),
    paper_bgcolor="white", plot_bgcolor="white",
    annotations=annotations,
    legend=dict(x=228 / W, y=1 - 145 / H, xanchor="left", yanchor="top",
                bgcolor="rgba(0,0,0,0)", borderwidth=0, font=LEG_FONT,
                tracegroupgap=0, itemwidth=30, traceorder="normal"),
    legend2=dict(x=680 / W, y=1 - 149 / H, xanchor="left", yanchor="top",
                 bgcolor="rgba(0,0,0,0)", borderwidth=0, font=LEG_FONT,
                 tracegroupgap=0, itemwidth=30, traceorder="normal"),
)

fig.write_html("out.html")
